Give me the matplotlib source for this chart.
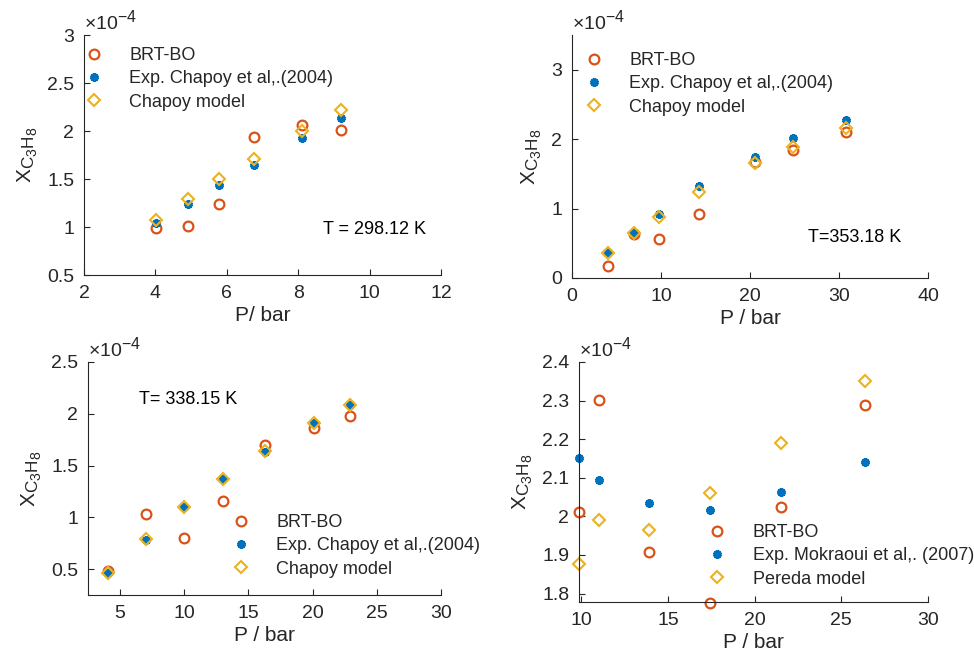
import matplotlib
matplotlib.use("Agg")
import matplotlib.pyplot as plt
from matplotlib.ticker import FuncFormatter
import matplotlib._mathtext as mt

# MATLAB-like subscripts are only a little smaller than the base text
mt.SHRINK_FACTOR = 0.82

plt.rcParams["font.family"] = ["Liberation Sans", "DejaVu Sans"]
plt.rcParams["mathtext.fontset"] = "custom"
plt.rcParams["mathtext.rm"] = "Liberation Sans"
plt.rcParams["mathtext.it"] = "Liberation Sans"
plt.rcParams["mathtext.default"] = "regular"

# values are in units of 1e-4 (mole fraction of propane)
# T = 298.12 K
p_298 = [4.01, 4.92, 5.79, 6.75, 8.12, 9.19]
brt_298 = [0.99, 1.01, 1.24, 1.94, 2.06, 2.01]
exp_298 = [1.04, 1.24, 1.44, 1.65, 1.93, 2.14]
chapoy_298 = [1.07, 1.29, 1.50, 1.71, 2.00, 2.22]

# T = 353.18 K
p_353 = [4.01, 6.94, 9.72, 14.3, 20.6, 24.84, 30.84]
brt_353 = [0.17, 0.64, 0.56, 0.92, 1.67, 1.85, 2.10]
exp_353 = [0.37, 0.65, 0.92, 1.32, 1.75, 2.01, 2.27]
chapoy_353 = [0.365, 0.645, 0.88, 1.24, 1.65, 1.89, 2.16]

# T = 338.15 K
p_338 = [4.02, 7.0, 10.0, 13.03, 16.32, 20.08, 22.9]
brt_338 = [0.48, 1.03, 0.80, 1.16, 1.70, 1.86, 1.98]
exp_338 = [0.46, 0.78, 1.10, 1.37, 1.63, 1.91, 2.08]
chapoy_338 = [0.46, 0.79, 1.10, 1.37, 1.64, 1.91, 2.08]

# Mokraoui et al. data
p_mok = [9.87, 11.02, 13.93, 17.42, 21.54, 26.34]
brt_mok = [2.011, 2.302, 1.908, 1.776, 2.023, 2.288]
exp_mok = [2.151, 2.095, 2.034, 2.017, 2.063, 2.142]
pereda_mok = [1.877, 1.990, 1.964, 2.061, 2.189, 2.352]

c_brt = "#D95319"
c_exp = "#0072BD"
c_mod = "#EDB120"
gray = "#262626"

W, H = 974, 652
fig = plt.figure(figsize=(W / 100, H / 100), dpi=100)


def make_axes(left, right, top, bottom):
    return fig.add_axes([left / W, (H - bottom) / H, (right - left) / W, (bottom - top) / H])


def style(ax, xlim, ylim, xticks, yticks, xlabel):
    ax.set_xlim(xlim)
    ax.set_ylim(ylim)
    ax.set_xticks(xticks)
    ax.set_yticks(yticks)
    fmt = FuncFormatter(lambda v, pos: "%g" % round(v, 4))
    ax.xaxis.set_major_formatter(fmt)
    ax.yaxis.set_major_formatter(fmt)
    for s in ["top", "right"]:
        ax.spines[s].set_visible(False)
    for s in ["left", "bottom"]:
        ax.spines[s].set_color(gray)
        ax.spines[s].set_linewidth(0.8)
    ax.tick_params(direction="in", length=4, width=0.8, colors=gray, labelsize=14, pad=7)
    ax.set_xlabel(xlabel, fontsize=15, color=gray, labelpad=3)
    ax.set_ylabel(r"$X_{C_3H_8}$", fontsize=15, color=gray, labelpad=5)
    ax.text(0.0, 1.005, r"$\times10^{-4}$", transform=ax.transAxes, ha="left", va="bottom",
            fontsize=14, color=gray)


def plot_series(ax, p, brt, exp, mod, exp_label, mod_label):
    ax.plot(p, brt, "o", ls="none", ms=7, mfc="none", mec=c_brt, mew=1.6, label="BRT-BO", clip_on=False)
    ax.plot(p, exp, marker=(6, 2, 0), ls="none", ms=6, mec=c_exp, mew=2.5, label=exp_label, clip_on=False)
    ax.plot(p, mod, "D", ls="none", ms=6, mfc="none", mec=c_mod, mew=1.5, label=mod_label, clip_on=False)


def add_legend(ax, x, y):
    leg = ax.legend(loc="upper left", bbox_to_anchor=(x / W, 1 - y / H), bbox_transform=fig.transFigure,
                    frameon=False, fontsize=13, handlelength=2.6, handletextpad=0.65, labelspacing=0.35,
                    borderpad=0, borderaxespad=0)
    for t in leg.get_texts():
        t.set_color(gray)


# top left
ax1 = make_axes(84, 441, 35, 275)
plot_series(ax1, p_298, brt_298, exp_298, chapoy_298, "Exp. Chapoy et al,.(2004)", "Chapoy model")
style(ax1, (2, 12), (0.5, 3), range(2, 13, 2), [0.5, 1, 1.5, 2, 2.5, 3], "P/ bar")
add_legend(ax1, 70.5, 47)

# top right
ax2 = make_axes(572, 928, 35, 278)
plot_series(ax2, p_353, brt_353, exp_353, chapoy_353, "Exp. Chapoy et al,.(2004)", "Chapoy model")
style(ax2, (0, 40), (0, 3.5), range(0, 41, 10), [0, 1, 2, 3], "P / bar")
add_legend(ax2, 570.5, 52)

# bottom left
ax3 = make_axes(88, 441, 362, 595)
plot_series(ax3, p_338, brt_338, exp_338, chapoy_338, "Exp. Chapoy et al,.(2004)", "Chapoy model")
style(ax3, (2.5, 30), (0.25, 2.5), range(5, 31, 5), [0.5, 1, 1.5, 2, 2.5], "P / bar")
add_legend(ax3, 217.5, 514)

# bottom right
ax4 = make_axes(579, 928, 362, 602)
plot_series(ax4, p_mok, brt_mok, exp_mok, pereda_mok, "Exp. Mokraoui et al,. (2007)", "Pereda model")
style(ax4, (9.87, 30), (1.778, 2.4), range(10, 31, 5), [1.8, 1.9, 2.0, 2.1, 2.2, 2.3, 2.4], "P / bar")
add_legend(ax4, 694, 524)

# temperature notes, placed in figure pixels from the top-left
for txt, x, y in [("T = 298.12 K", 323, 229), ("T=353.18 K", 808, 238), ("T= 338.15 K", 139, 399)]:
    fig.text(x / W, 1 - y / H, txt, fontsize=13, color="black", va="center", ha="left")

fig.savefig("out.png", dpi=100)
